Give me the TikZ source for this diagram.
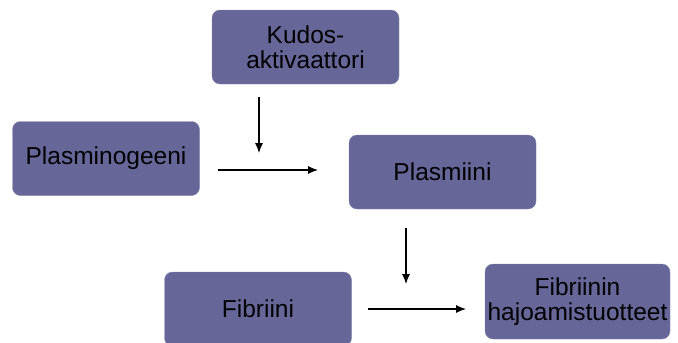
\documentclass[tikz,border=0pt]{standalone}
\usepackage{fontspec}
\setmainfont{Liberation Sans}
\usetikzlibrary{arrows.meta}

\definecolor{boxblue}{RGB}{102,102,153}
\tikzset{
  stage/.style={draw=boxblue!80!white, fill=boxblue, rounded corners=8pt,
    minimum width=187pt, minimum height=74pt, align=center, inner sep=1pt,
    font=\fontsize{24.5}{25}\selectfont, text=black},
  flow/.style={-{Latex[length=10pt,width=8pt]}, line width=1.1pt}
}

\begin{document}
\begin{tikzpicture}[x=1pt,y=-1pt]
    \useasboundingbox (0,0) rectangle (678,343);
    % stages
    \node[stage] (tpa) at (305.5,47) {Kudos-\\aktivaattori};
    \node[stage] (plg) at (106,158.5) {Plasminogeeni};
    \node[stage] (pls) at (442.5,172) {Plasmiini};
    \node[stage] (fbn) at (258,309) {Fibriini};
    \node[stage, minimum width=185pt, minimum height=75pt] (fdp) at (577.5,301.5) {Fibriinin\\hajoamistuotteet};
    % arrow ends
    \coordinate (tpa-a) at (259,97);
    \coordinate (tpa-b) at (259,153);
    \coordinate (plg-a) at (218,170);
    \coordinate (plg-b) at (318,170);
    \coordinate (pls-a) at (406,228);
    \coordinate (pls-b) at (406,284);
    \coordinate (fbn-a) at (368,309);
    \coordinate (fbn-b) at (466,309);
    \draw[flow] (tpa-a) -- (tpa-b);
    \draw[flow] (plg-a) -- (plg-b);
    \draw[flow] (pls-a) -- (pls-b);
    \draw[flow] (fbn-a) -- (fbn-b);
\end{tikzpicture}
\end{document}
